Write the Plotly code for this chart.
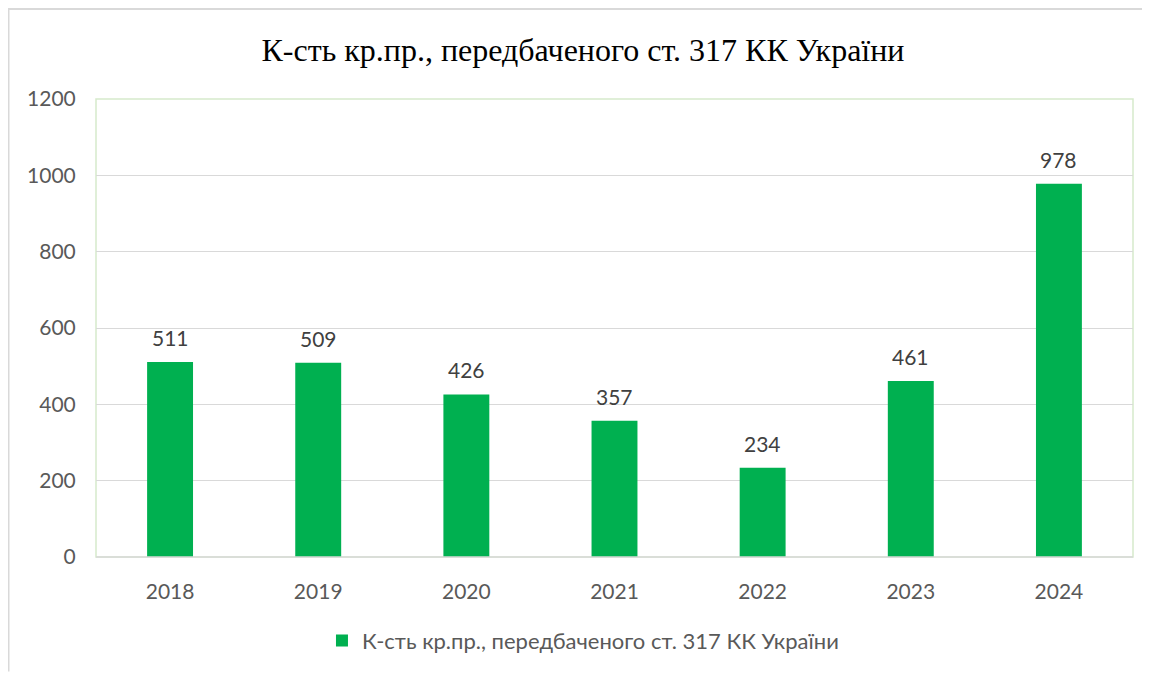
import plotly.graph_objects as go

years = ["2018", "2019", "2020", "2021", "2022", "2023", "2024"]
counts = [511, 509, 426, 357, 234, 461, 978]
series_name = "К-сть кр.пр., передбаченого ст. 317 КК України"
title_text = "К-сть кр.пр., передбаченого ст. 317 КК України"
y_ticks = [0, 200, 400, 600, 800, 1000, 1200]

W, H = 1142, 666
L, R, T, B = 88, 17, 91, 115
SANS = "Lato, Open Sans, sans-serif"

fig = go.Figure()
fig.add_trace(go.Bar(
    x=years, y=counts, name=series_name,
    marker=dict(color="#00b050", line=dict(width=0)),
    showlegend=True,
))

for i, v in enumerate(counts):
    fig.add_annotation(x=i, y=v, text=str(v), showarrow=False, yanchor="bottom",
                       yshift=10, font=dict(family=SANS, size=21, color="#404040"))

fig.update_layout(
    width=W, height=H,
    margin=dict(l=L, r=R, t=T, b=B),
    paper_bgcolor="white", plot_bgcolor="white",
    bargap=0.69,
    title=dict(text=title_text, x=0.5035, xanchor="center", y=1 - 42 / H, yanchor="middle",
               font=dict(family="Liberation Serif, Times New Roman, serif", size=32, color="#000000")),
    xaxis=dict(type="category", categoryorder="array", categoryarray=years,
               range=[-0.5, len(years) - 0.5],
               showgrid=False, showline=False, zeroline=False, ticks="outside", ticklen=16,
               tickcolor="rgba(0,0,0,0)",
               tickfont=dict(family=SANS, size=21, color="#595959")),
    yaxis=dict(range=[0, 1200], tickvals=y_ticks, showgrid=True, gridcolor="#d9d9d9", gridwidth=1,
               zeroline=False, showline=False, ticks="outside", ticklen=15, tickcolor="rgba(0,0,0,0)",
               tickfont=dict(family=SANS, size=21, color="#595959")),
    legend=dict(orientation="h", x=0.4696, xanchor="center", y=-(643 - 559) / (H - T - B), yanchor="middle",
                font=dict(family=SANS, size=22, color="#595959"),
                itemsizing="constant"),
    showlegend=True,
)

ph = H - T - B
pw = W - L - R
fig.add_shape(type="rect", xref="paper", yref="paper", x0=0, x1=1, y0=0, y1=1,
              line=dict(color="#d6eacb", width=1.5), layer="below")
fig.add_shape(type="line", xref="paper", yref="paper", x0=0, x1=1, y0=0, y1=0,
              line=dict(color="#d9d9d9", width=1.5))
fx0 = -L / pw
fy_top = 1 + T / ph
fy_bot = -B / ph
fig.add_shape(type="line", xref="paper", yref="paper", x0=fx0, x1=1 + R / pw, y0=fy_top, y1=fy_top,
              line=dict(color="#d9d9d9", width=3))
fig.add_shape(type="line", xref="paper", yref="paper", x0=fx0, x1=fx0, y0=fy_top, y1=fy_bot,
              line=dict(color="#d9d9d9", width=3))

fig.write_html("out.html")
